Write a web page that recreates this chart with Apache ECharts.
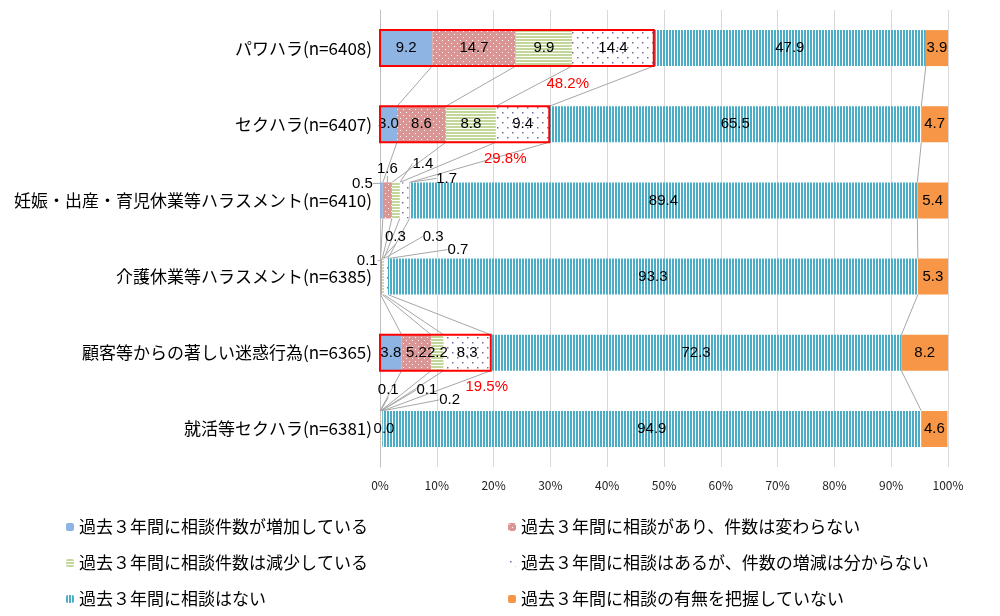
<!DOCTYPE html>
<html><head><meta charset="utf-8">
<script src="https://cdn.jsdelivr.net/npm/echarts@6/dist/echarts.min.js"></script>
<style>html,body{margin:0;padding:0;background:#fff}#c{width:1000px;height:616px}</style>
</head><body><div id="c"></div>
<script>
// ---- data ----
const categories = ['パワハラ(n=6408)','セクハラ(n=6407)','妊娠・出産・育児休業等ハラスメント(n=6410)','介護休業等ハラスメント(n=6385)','顧客等からの著しい迷惑行為(n=6365)','就活等セクハラ(n=6381)'];
const seriesNames = ['過去３年間に相談件数が増加している','過去３年間に相談があり、件数は変わらない','過去３年間に相談件数は減少している','過去３年間に相談はあるが、件数の増減は分からない','過去３年間に相談はない','過去３年間に相談の有無を把握していない'];
const increased    = [9.2, 3.0, 0.5, 0.1, 3.8, 0.0];
const unchanged    = [14.7, 8.6, 1.6, 0.3, 5.2, 0.1];
const decreased    = [9.9, 8.8, 1.4, 0.3, 2.2, 0.1];
const unknownTrend = [14.4, 9.4, 1.7, 0.7, 8.3, 0.2];
const noConsult    = [47.9, 65.5, 89.4, 93.3, 72.3, 94.9];
const notGrasped   = [3.9, 4.7, 5.4, 5.3, 8.2, 4.6];
const xTickLabels  = ['0%','10%','20%','30%','40%','50%','60%','70%','80%','90%','100%'];
const boxRows   = [0, 1, 4];
const boxTotals = [48.2, 29.8, 19.5];

// ---- style config ----
const BAR_W = 36;
const NUM_FONT = 'Liberation Sans';
const boxLabelOffsets = [[-86, 18], [-44, 17], [-4, 16]];
const smallLabelShift = {
  2: [[-19,-17],[0,-32],[27,-37],[42,-22]],
  3: [[-13,-16],[14,-40],[50,-40],[72,-27]],
  5: [[4,0],[8,-39],[46,-39],[68,-29]]
};
// legend slots: [left, top] per series
const legendSlots = [[61, 512], [503, 512], [61, 548], [503, 548], [61, 584], [503, 584]];

function pattern(w, h, draw) {
  const c = document.createElement('canvas'); c.width = w; c.height = h;
  const g = c.getContext('2d'); draw(g, w, h);
  return { image: c, repeat: 'repeat' };
}
const colors = [
  '#8DB4E2',
  pattern(6, 6, (g) => { g.fillStyle = '#D99694'; g.fillRect(0,0,6,6); g.fillStyle = '#fff'; g.fillRect(1,1,1,1); g.fillRect(4,4,1,1); }),
  pattern(4, 3, (g) => { g.fillStyle = '#fff'; g.fillRect(0,0,4,3); g.fillStyle = '#C4D79B'; g.fillRect(0,0,4,2); }),
  pattern(10, 10, (g) => { g.fillStyle = '#fff'; g.fillRect(0,0,10,10); g.fillStyle = '#7A6A9E'; g.fillRect(2,2,1.5,1.5); g.fillRect(7,7,1.5,1.5); }),
  pattern(3, 4, (g) => { g.fillStyle = '#fff'; g.fillRect(0,0,3,4); g.fillStyle = '#4BACC6'; g.fillRect(0,0,2,4); }),
  '#F79646'
];
const allSeries = [increased, unchanged, decreased, unknownTrend, noConsult, notGrasped];

const barSeries = allSeries.map((arr, si) => ({
  name: seriesNames[si],
  type: 'bar',
  stack: 'total',
  barWidth: BAR_W,
  itemStyle: { color: colors[si] },
  label: {
    show: true, position: 'inside', color: '#000', fontSize: 15, fontFamily: NUM_FONT,
    formatter: (p) => Number(p.value).toFixed(1)
  },
  labelLine: { show: true, lineStyle: { color: '#A6A6A6', width: 1 } },
  labelLayout: (params) => {
    const s = smallLabelShift[params.dataIndex];
    if (s && si < 4) return { dx: s[si][0], dy: s[si][1] };
    return {};
  },
  data: arr.map((v, i) => ({ value: v, labelLine: { show: !!(smallLabelShift[i] && si < 4) } })),
  z: 2
}));

// series lines (connectors between cumulative boundaries of adjacent bars)
const connectorData = [];
for (let i = 0; i < categories.length - 1; i++) {
  let c1 = 0, c2 = 0;
  for (let k = 0; k < 5; k++) {
    c1 += allSeries[k][i]; c2 += allSeries[k][i + 1];
    connectorData.push([c1, i, c2, i + 1]);
  }
}
const connectorSeries = {
  type: 'custom', silent: true, z: 1,
  renderItem: (params, api) => {
    const a = api.coord([api.value(0), api.value(1)]);
    const b = api.coord([api.value(2), api.value(3)]);
    return { type: 'line', shape: { x1: a[0], y1: a[1] + BAR_W / 2, x2: b[0], y2: b[1] - BAR_W / 2 },
      style: { stroke: '#A6A6A6', lineWidth: 1 } };
  },
  encode: { x: [0, 2], y: [1, 3] },
  data: connectorData
};

const boxSeries = {
  type: 'custom', silent: true, z: 5,
  renderItem: (params, api) => {
    const i = params.dataIndex;
    const a = api.coord([0, api.value(1)]);
    const b = api.coord([api.value(0), api.value(1)]);
    const off = boxLabelOffsets[i];
    return { type: 'group', children: [
      { type: 'rect', shape: { x: a[0], y: a[1] - BAR_W / 2, width: b[0] - a[0], height: BAR_W },
        style: { fill: 'none', stroke: '#FF0000', lineWidth: 2 } },
      { type: 'text', x: b[0] + off[0], y: b[1] + BAR_W / 2 + off[1],
        style: { text: api.value(0).toFixed(1) + '%', fill: '#FF0000', fontSize: 15, align: 'center', verticalAlign: 'middle', fontFamily: NUM_FONT } }
    ]};
  },
  encode: { x: 0, y: 1 },
  data: boxTotals.map((t, i) => [t, boxRows[i]])
};

const legends = seriesNames.map((n, i) => ({
  orient: 'horizontal', left: legendSlots[i][0], top: legendSlots[i][1],
  itemWidth: 8, itemHeight: 8, selectedMode: false,
  textStyle: { fontSize: 17, color: '#000', lineHeight: 20 },
  data: [n]
}));

const chart = echarts.init(document.getElementById('c'), null, { renderer: 'canvas' });
chart.setOption({
  animation: false,
  textStyle: { fontFamily: 'Noto Sans CJK JP' },
  grid: { left: 380, right: 52, top: 10, bottom: 149 },
  xAxis: {
    type: 'value', min: 0, max: 100, interval: 10,
    axisLine: { show: false }, axisTick: { show: false },
    splitLine: { lineStyle: { color: '#D9D9D9' } },
    axisLabel: { color: '#222', fontSize: 12, margin: 12, formatter: (v) => xTickLabels[Math.round(v / 10)] }
  },
  yAxis: {
    type: 'category', inverse: true, data: categories,
    axisLine: { show: true, lineStyle: { color: '#BFBFBF' } }, axisTick: { show: false },
    axisLabel: { color: '#000', fontSize: 17, margin: 8 }
  },
  legend: legends,
  series: [connectorSeries, ...barSeries, boxSeries]
});
</script></body></html>
